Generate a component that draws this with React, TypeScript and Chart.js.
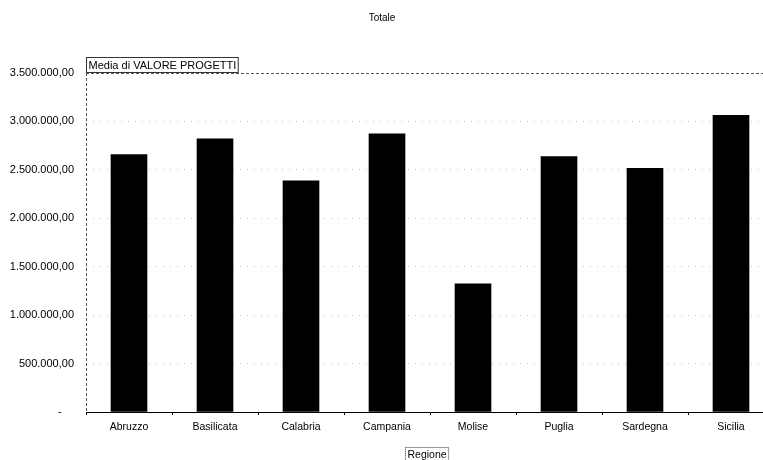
import React, { useEffect, useRef } from "react";
import { Chart, registerables } from "chart.js";

Chart.register(...registerables);

// Average project value per region
const regioni = ["Abruzzo", "Basilicata", "Calabria", "Campania", "Molise", "Puglia", "Sardegna", "Sicilia"];
const mediaValoreProgetti = [2659000, 2821000, 2387000, 2873000, 1324000, 2638000, 2517000, 3062000];
const yMax = 3500000;
const yStep = 500000;

const chartTitle = "Totale";
const seriesLabel = "Media di VALORE PROGETTI";
const axisLabel = "Regione";

const FONT = "'Liberation Sans', Arial, sans-serif";

const fmt = (v: number) =>
  v === 0
    ? "-    "
    : v.toLocaleString("it-IT", { minimumFractionDigits: 2, maximumFractionDigits: 2 });

// Field buttons, title and dashed plot borders, as in a pivot chart
const decorations = {
  id: "pivotDecorations",
  afterDraw(chart: any) {
    const { ctx, chartArea } = chart;
    ctx.save();
    ctx.fillStyle = "#000";
    ctx.textBaseline = "alphabetic";

    // title
    ctx.textAlign = "center";
    ctx.font = `10px ${FONT}`;
    ctx.fillText(chartTitle, 382, 21);

    // dashed top and left borders of plot area
    ctx.strokeStyle = "#555";
    ctx.lineWidth = 1;
    ctx.setLineDash([3, 2]);
    ctx.beginPath();
    ctx.moveTo(chartArea.left, chartArea.top + 0.5);
    ctx.lineTo(chartArea.right, chartArea.top + 0.5);
    ctx.moveTo(chartArea.left + 0.5, chartArea.top);
    ctx.lineTo(chartArea.left + 0.5, chartArea.bottom);
    ctx.stroke();
    ctx.setLineDash([]);

    // series field button
    ctx.font = `11px ${FONT}`;
    ctx.textAlign = "left";
    const w1 = ctx.measureText(seriesLabel).width + 4;
    ctx.strokeStyle = "#333";
    ctx.strokeRect(chartArea.left + 0.5, 57.5, w1, 15);
    ctx.fillText(seriesLabel, chartArea.left + 2.5, 69);

    // category field button
    ctx.font = `10.5px ${FONT}`;
    const w2 = ctx.measureText(axisLabel).width + 4;
    ctx.setLineDash([1, 1]);
    ctx.strokeRect(405.5, 447.5, w2, 13);
    ctx.setLineDash([]);
    ctx.fillText(axisLabel, 407.5, 458);
    ctx.restore();
  },
};

export default function App() {
  const ref = useRef<HTMLCanvasElement>(null);

  useEffect(() => {
    document.body.style.margin = "0";
    document.body.style.overflow = "hidden";
    const chart = new Chart(ref.current!, {
      type: "bar",
      data: {
        labels: regioni,
        datasets: [
          {
            label: seriesLabel,
            data: mediaValoreProgetti,
            backgroundColor: "#000",
            borderWidth: 0,
            barThickness: 36,
          },
        ],
      },
      options: {
        responsive: false,
        animation: false,
        devicePixelRatio: 1,
        layout: { padding: { top: 73, right: 0, left: 0, bottom: 0 } },
        plugins: {
          legend: { display: false },
          title: { display: false },
          tooltip: { enabled: false },
        },
        scales: {
          x: {
            afterFit: (s: any) => {
              s.height = 48;
            },
            grid: {
              offset: true,
              drawOnChartArea: false,
              drawTicks: true,
              tickLength: 3,
              color: "#000",
            },
            border: { display: true, color: "#000", width: 1 },
            ticks: {
              color: "#000",
              font: { family: FONT, size: 10.5 },
              padding: 6,
              maxRotation: 0,
            },
          },
          y: {
            min: 0,
            max: yMax,
            afterFit: (s: any) => {
              s.width = 86;
            },
            grid: {
              drawTicks: false,
              color: (c: any) =>
                c.tick && (c.tick.value === yMax || c.tick.value === 0) ? "rgba(0,0,0,0)" : "#c4c4c4",
              lineWidth: 1,
            },
            border: { display: false, dash: [1, 6] },
            ticks: {
              stepSize: yStep,
              color: "#000",
              font: { family: FONT, size: 11 },
              padding: 12,
              callback: (v: any) => fmt(Number(v)),
            },
          },
        },
      },
      plugins: [decorations],
    });
    return () => chart.destroy();
  }, []);

  return (
    <div
      style={{
        position: "fixed",
        left: 0,
        top: 0,
        width: 763,
        height: 460,
        overflow: "hidden",
        background: "#fff",
      }}
    >
      <canvas ref={ref} width={774} height={460} />
    </div>
  );
}
